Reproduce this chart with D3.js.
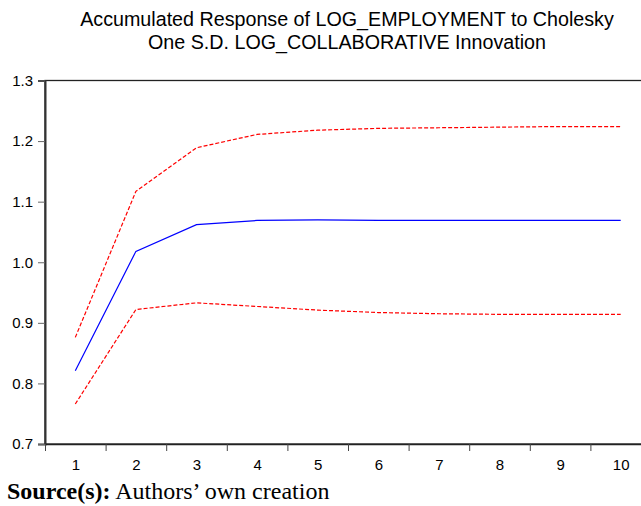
<!DOCTYPE html>
<html>
<head>
<meta charset="utf-8">
<script src="https://cdn.jsdelivr.net/npm/d3@7"></script>
<style>
body{margin:0;background:#fff;}
svg{display:block;}
</style>
</head>
<body>
<div id="chart"></div>
<script>
var periods=[1,2,3,4,5,6,7,8,9,10];
var response=[0.821,1.018,1.062,1.069,1.070,1.069,1.069,1.069,1.069,1.069];
var upperBand=[0.876,1.117,1.189,1.211,1.218,1.221,1.222,1.223,1.224,1.224];
var lowerBand=[0.766,0.922,0.933,0.927,0.921,0.917,0.915,0.914,0.914,0.914];
var yTicks=[0.7,0.8,0.9,1.0,1.1,1.2,1.3];
var titleLines=["Accumulated Response of LOG_EMPLOYMENT to Cholesky","One S.D. LOG_COLLABORATIVE Innovation"];

var width=641, height=506;
var plotLeft=45, plotTop=80.5, plotBottom=444;

var svg=d3.select("#chart").append("svg")
	.attr("width",width)
	.attr("height",height);

//scales
var xscale=d3.scaleLinear().domain([0.5,10.5]).range([plotLeft,651]);
var yscale=d3.scaleLinear().domain([0.7,1.3]).range([plotBottom,plotTop]);

//title
svg.append("g").selectAll("text")
	.data(titleLines)
	.enter().append("text")
	.attr("x",347)
	.attr("y",function(d,i){ return 25.7+i*23.3; })
	.attr("text-anchor","middle")
	.style("font-family","'Liberation Sans', Arial, sans-serif")
	.style("font-size","19.7px")
	.attr("fill","#000")
	.text(function(d){ return d; });

//frame
svg.append("rect")
	.attr("x",plotLeft)
	.attr("y",plotTop)
	.attr("width",651-plotLeft)
	.attr("height",plotBottom-plotTop)
	.attr("fill","none")
	.attr("stroke","#222")
	.attr("stroke-width",1.3);

//y axis
var y_axis=d3.axisLeft(yscale)
	.tickValues(yTicks)
	.tickSize(7)
	.tickPadding(5)
	.tickFormat(d3.format(".1f"));
var gy=svg.append("g")
	.attr("transform","translate("+plotLeft+",0)")
	.call(y_axis);
gy.select(".domain").attr("stroke","#333").attr("stroke-width",2);
gy.selectAll(".tick line").attr("stroke","#666");
gy.selectAll("text")
	.style("font-family","'Liberation Sans', Arial, sans-serif")
	.style("font-size","15px")
	.attr("fill","#000");

//x axis: labels
var x_axis=d3.axisBottom(xscale)
	.tickValues(periods)
	.tickSize(0)
	.tickPadding(15)
	.tickFormat(d3.format("d"));
var gx=svg.append("g")
	.attr("transform","translate(0,"+plotBottom+")")
	.call(x_axis);
gx.select(".domain").attr("stroke","#222").attr("stroke-width",1.3);
gx.selectAll("text")
	.style("font-family","'Liberation Sans', Arial, sans-serif")
	.style("font-size","15px")
	.attr("fill","#000");

//x axis: tick marks between periods
var x_marks=d3.axisBottom(xscale)
	.tickValues(periods.map(function(d){ return d-0.5; }))
	.tickSize(7)
	.tickFormat("");
var gm=svg.append("g")
	.attr("transform","translate(0,"+plotBottom+")")
	.call(x_marks);
gm.select(".domain").remove();
gm.selectAll(".tick line").attr("stroke","#444");

//lines
var line=d3.line()
	.x(function(d,i){ return xscale(periods[i]); })
	.y(function(d){ return yscale(d); });

svg.append("path")
	.datum(upperBand)
	.attr("d",line)
	.attr("fill","none")
	.attr("stroke","#ff0000")
	.attr("stroke-width",1.2)
	.attr("stroke-dasharray","4,2");
svg.append("path")
	.datum(lowerBand)
	.attr("d",line)
	.attr("fill","none")
	.attr("stroke","#ff0000")
	.attr("stroke-width",1.2)
	.attr("stroke-dasharray","4,2");
svg.append("path")
	.datum(response)
	.attr("d",line)
	.attr("fill","none")
	.attr("stroke","#0000ff")
	.attr("stroke-width",1.2);

//source note
var note=svg.append("text")
	.attr("x",7)
	.attr("y",499)
	.style("font-family","'Liberation Serif', 'Times New Roman', serif")
	.style("font-size","24px")
	.attr("fill","#000");
note.append("tspan").attr("font-weight","bold").text("Source(s):");
note.append("tspan").text(" Authors\u2019 own creation");
</script>
</body>
</html>
